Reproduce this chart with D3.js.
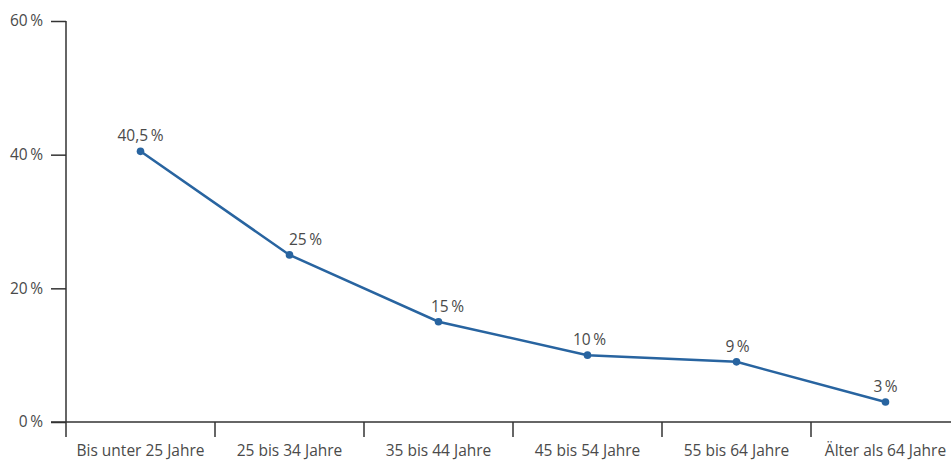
<!DOCTYPE html>
<html><head><meta charset="utf-8">
<script src="https://cdn.jsdelivr.net/npm/d3@7/dist/d3.min.js"></script>
<style>body{margin:0;background:#fff}svg{display:block}text{font-family:"Open Sans","Noto Sans",sans-serif;fill:#4a4a4a}</style>
</head><body><svg id="c" width="951" height="462"></svg>
<script>
const categories = ["Bis unter 25 Jahre","25 bis 34 Jahre","35 bis 44 Jahre","45 bis 54 Jahre","55 bis 64 Jahre","Älter als 64 Jahre"];
const values = [40.5, 25, 15, 10, 9, 3];
const valueLabels = ["40,5\u2009%","25\u2009%","15\u2009%","10\u2009%","9\u2009%","3\u2009%"];
const yTicks = [0, 20, 40, 60];

// label placement nudges (layout only)
const labelDx = [0, 16, 9, 2, 1, 0];

const svg = d3.select("#c");
const x = d3.scaleBand().domain(categories).range([66, 960]).padding(0);
const y = d3.scaleLinear().domain([0, 60]).range([422, 21]);
const axisColor = "#333";
const fs = 15.5;

// y axis
const ya = svg.append("g").attr("transform","translate(66,0)")
  .call(d3.axisLeft(y).tickValues(yTicks).tickSize(15).tickPadding(8).tickFormat(d => d + "\u2009%"));
ya.select(".domain").remove();
ya.selectAll(".tick line").attr("stroke", axisColor).attr("stroke-width",1.5);
ya.selectAll(".tick text").attr("font-size",fs).attr("fill","#4a4a4a").attr("font-family",null);
svg.append("line").attr("x1",66).attr("x2",66).attr("y1",y(60)).attr("y2",437).attr("stroke",axisColor).attr("stroke-width",1.5);

// x axis
const xa = svg.append("g").attr("transform","translate(0,422)")
  .call(d3.axisBottom(x).tickSize(0).tickPadding(23));
xa.select(".domain").remove();
xa.selectAll(".tick text").attr("font-size",fs).attr("fill","#4a4a4a").attr("font-family",null);
svg.append("line").attr("x1",51).attr("x2",951).attr("y1",422).attr("y2",422).attr("stroke",axisColor).attr("stroke-width",1.5);
svg.selectAll(".bt").data(categories.slice(1)).join("line")
  .attr("x1", d => x(d)).attr("x2", d => x(d)).attr("y1",422).attr("y2",437)
  .attr("stroke",axisColor).attr("stroke-width",1.5);

// line
const cx = d => x(d) + x.bandwidth()/2;
const color = "#2864a0";
svg.append("path").datum(values)
  .attr("d", d3.line().x((d,i)=>cx(categories[i])).y(d=>y(d)))
  .attr("fill","none").attr("stroke",color).attr("stroke-width",2.5);
svg.selectAll(".pt").data(values).join("circle")
  .attr("cx",(d,i)=>cx(categories[i])).attr("cy",d=>y(d)).attr("r",3.8).attr("fill",color);
svg.selectAll(".vl").data(values).join("text")
  .attr("x",(d,i)=>cx(categories[i]) + labelDx[i]).attr("y",d=>y(d)-10)
  .attr("text-anchor","middle").attr("font-size",fs).attr("fill","#4a4a4a")
  .text((d,i)=>valueLabels[i]);
</script></body></html>
